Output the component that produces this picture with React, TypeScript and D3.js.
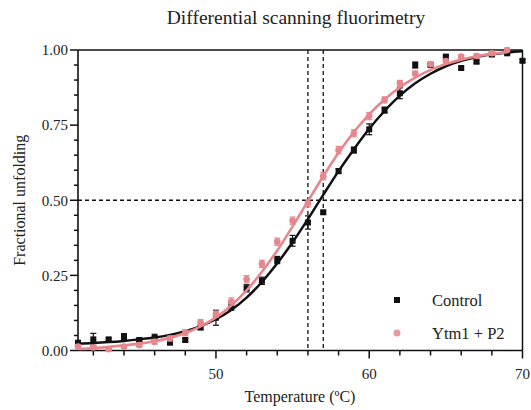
import React from 'react';
import * as d3 from 'd3';

// ---- data ----
const controlTemps = [41,42,43,44,45,46,47,48,49,50,51,52,53,54,55,56,57,58,59,60,61,62,63,64,65,66,67,68,69,70];
const controlValues = [0.024,0.037,0.037,0.046,0.035,0.042,0.026,0.035,0.077,0.109,0.146,0.207,0.232,0.301,0.365,0.426,0.46,0.597,0.667,0.736,0.80,0.856,0.95,0.95,0.978,0.94,0.961,0.985,0.989,0.964];
const controlErrors = [0.01,0.02,0.005,0.01,0.005,0.012,0.005,0.005,0.008,0.025,0.012,0.012,0.012,0.012,0.018,0.022,0.005,0.008,0.01,0.018,0.01,0.018,0.01,0.005,0.005,0.005,0.005,0.005,0.005,0.005];

const ytmTemps = [41,42,43,44,45,46,47,48,49,50,51,52,53,54,55,56,57,58,59,60,61,62,63,64,65,66,67,68,69];
const ytmValues = [0.013,0.01,0.004,0.013,0.018,0.029,0.04,0.059,0.093,0.121,0.163,0.237,0.288,0.362,0.432,0.49,0.58,0.667,0.723,0.78,0.834,0.889,0.922,0.953,0.963,0.978,0.98,0.989,1.0];
const ytmErrors = [0.006,0.006,0.005,0.006,0.006,0.008,0.008,0.01,0.01,0.01,0.012,0.012,0.012,0.012,0.012,0.012,0.012,0.012,0.012,0.012,0.01,0.01,0.008,0.008,0.006,0.006,0.006,0.006,0.006];

const controlFitTemps = [41,42,43,44,45,46,47,48,49,50,51,52,53,54,55,56,57,58,59,60,61,62,63,64,65,66,67,68,69,70];
const controlFit = [0.023,0.025,0.028,0.032,0.037,0.043,0.052,0.064,0.081,0.104,0.135,0.176,0.228,0.29,0.36,0.437,0.518,0.597,0.67,0.738,0.797,0.848,0.889,0.921,0.946,0.964,0.977,0.986,0.992,0.996];

const ytmFitTemps = [41,42,43,44,45,46,47,48,49,50,51,52,53,54,55,56,57,58,59,60,61,62,63,64,65,66,67,68,69];
const ytmFit = [0.005,0.008,0.012,0.017,0.023,0.031,0.042,0.058,0.08,0.11,0.15,0.2,0.262,0.333,0.413,0.497,0.58,0.658,0.727,0.786,0.835,0.876,0.908,0.934,0.953,0.968,0.979,0.987,0.993];

const tmLines = [56, 57];
const halfLine = 0.5;

const xMajorTicks = [50, 60, 70];
const xMinorTicks = [42,44,46,48,52,54,56,58,62,64,66,68];
const yMajorTicks = [0, 0.25, 0.5, 0.75, 1.0];
const yMinorTicks = [0.05,0.1,0.15,0.2,0.3,0.35,0.4,0.45,0.55,0.6,0.65,0.7,0.8,0.85,0.9,0.95];

const seriesNames = ['Control', 'Ytm1 + P2'];

const PINK = '#e6868d';
const FONT = "'Liberation Serif', 'Times New Roman', serif";

export default function App() {
  const W = 531, H = 410;
  const left = 78, right = 522.5, top = 50, bottom = 350.5;
  const x = d3.scaleLinear().domain([41, 70]).range([left, right]);
  const y = d3.scaleLinear().domain([0, 1]).range([bottom, top]);

  const line = d3.line<[number, number]>()
    .x(d => x(d[0])).y(d => y(d[1]))
    .curve(d3.curveMonotoneX);

  const cFit = line(controlFitTemps.map((t, i) => [t, controlFit[i]] as [number, number])) || '';
  const yFit = line(ytmFitTemps.map((t, i) => [t, ytmFit[i]] as [number, number])) || '';

  const cap = 3;
  const txt = { fontFamily: FONT, fill: '#222' };

  return (
    <svg width={W} height={H} style={{ position: 'absolute', left: 0, top: 0, background: '#fff' }}>
      <rect x={0} y={0} width={W} height={H} fill="#fff" />
      <text x={296} y={24} textAnchor="middle" fontSize={19.5} style={txt}>Differential scanning fluorimetry</text>

      {/* reference lines */}
      <line x1={left} x2={right} y1={y(halfLine)} y2={y(halfLine)} stroke="#111" strokeWidth={1.3} strokeDasharray="4,3" />
      {tmLines.map(t => (
        <line key={t} x1={x(t)} x2={x(t)} y1={top} y2={bottom} stroke="#111" strokeWidth={1.3} strokeDasharray="4,3" />
      ))}

      {/* frame */}
      <line x1={left} x2={right} y1={top} y2={top} stroke="#111" strokeWidth={1.5} />
      <line x1={right} x2={right} y1={top} y2={bottom} stroke="#111" strokeWidth={1.5} />
      <line x1={left} x2={left} y1={top} y2={bottom} stroke="#111" strokeWidth={1.6} />
      <line x1={left} x2={right} y1={bottom} y2={bottom} stroke="#111" strokeWidth={1.6} />

      {/* y ticks */}
      {yMajorTicks.map(v => (
        <g key={'ym' + v}>
          <line x1={left - 8} x2={left} y1={y(v)} y2={y(v)} stroke="#111" strokeWidth={1.5} />
          <text x={left - 10} y={y(v)} dy="0.35em" textAnchor="end" fontSize={15} style={txt}>{v.toFixed(2)}</text>
        </g>
      ))}
      {yMinorTicks.map(v => (
        <line key={'yn' + v} x1={left - 4} x2={left} y1={y(v)} y2={y(v)} stroke="#111" strokeWidth={1.5} />
      ))}

      {/* x ticks */}
      {xMajorTicks.map(t => (
        <g key={'xm' + t}>
          <line x1={x(t)} x2={x(t)} y1={bottom} y2={bottom + 8} stroke="#111" strokeWidth={1.5} />
          <text x={x(t)} y={bottom + 28} textAnchor="middle" fontSize={15} style={txt}>{t}</text>
        </g>
      ))}
      {xMinorTicks.map(t => (
        <line key={'xn' + t} x1={x(t)} x2={x(t)} y1={bottom} y2={bottom + 5} stroke="#111" strokeWidth={1.5} />
      ))}

      {/* axis titles */}
      <text x={300} y={402} textAnchor="middle" fontSize={16} style={txt}>Temperature (ºC)</text>
      <text transform={`translate(25,${(top + bottom) / 2}) rotate(-90)`} textAnchor="middle" fontSize={16} style={txt}>Fractional unfolding</text>

      {/* control series */}
      <path d={cFit} fill="none" stroke="#111" strokeWidth={2.5} />
      {controlTemps.map((t, i) => (
        <g key={'c' + t}>
          <line x1={x(t)} x2={x(t)} y1={y(controlValues[i] - controlErrors[i])} y2={y(controlValues[i] + controlErrors[i])} stroke="#111" strokeWidth={1.2} />
          <line x1={x(t) - cap} x2={x(t) + cap} y1={y(controlValues[i] + controlErrors[i])} y2={y(controlValues[i] + controlErrors[i])} stroke="#111" strokeWidth={1.2} />
          <line x1={x(t) - cap} x2={x(t) + cap} y1={y(controlValues[i] - controlErrors[i])} y2={y(controlValues[i] - controlErrors[i])} stroke="#111" strokeWidth={1.2} />
          <rect x={x(t) - 3} y={y(controlValues[i]) - 3} width={6} height={6} fill="#111" />
        </g>
      ))}

      {/* ytm1 + p2 series */}
      <path d={yFit} fill="none" stroke={PINK} strokeWidth={2.6} />
      {ytmTemps.map((t, i) => (
        <g key={'p' + t}>
          <line x1={x(t)} x2={x(t)} y1={y(ytmValues[i] - ytmErrors[i])} y2={y(ytmValues[i] + ytmErrors[i])} stroke={PINK} strokeWidth={1.2} />
          <line x1={x(t) - cap} x2={x(t) + cap} y1={y(ytmValues[i] + ytmErrors[i])} y2={y(ytmValues[i] + ytmErrors[i])} stroke={PINK} strokeWidth={1.2} />
          <line x1={x(t) - cap} x2={x(t) + cap} y1={y(ytmValues[i] - ytmErrors[i])} y2={y(ytmValues[i] - ytmErrors[i])} stroke={PINK} strokeWidth={1.2} />
          <circle cx={x(t)} cy={y(ytmValues[i])} r={3.3} fill={PINK} />
        </g>
      ))}

      {/* legend */}
      <rect x={394} y={297} width={6} height={6} fill="#111" />
      <text x={432} y={300} dy="0.35em" fontSize={16.5} style={txt}>{seriesNames[0]}</text>
      <circle cx={397} cy={333} r={3.5} fill={PINK} opacity={0.85} />
      <text x={432} y={333} dy="0.35em" fontSize={16.5} style={txt}>{seriesNames[1]}</text>
    </svg>
  );
}
